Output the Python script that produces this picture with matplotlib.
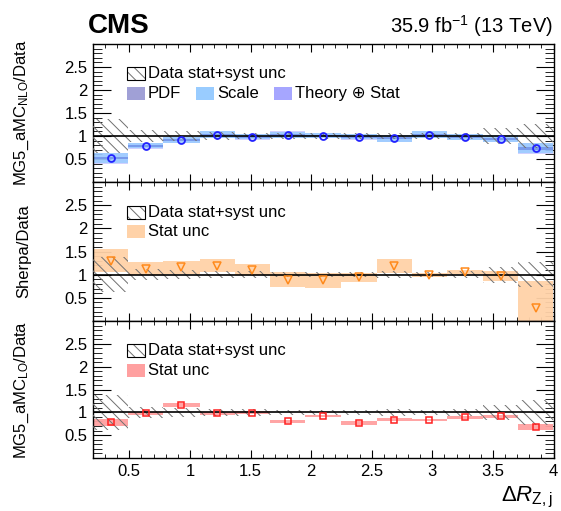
import numpy as np
import matplotlib
matplotlib.use('Agg')
import matplotlib.pyplot as plt
from matplotlib.patches import Rectangle
from matplotlib.ticker import MultipleLocator, FuncFormatter

plt.rcParams['font.family'] = ['Liberation Sans', 'DejaVu Sans']
plt.rcParams['mathtext.fontset'] = 'custom'
plt.rcParams['mathtext.rm'] = 'Liberation Sans'
plt.rcParams['mathtext.it'] = 'Liberation Sans:italic'
plt.rcParams['hatch.linewidth'] = 0.7

# Delta R(Z,j) binning
bin_edges = [0.2, 0.49, 0.78, 1.08, 1.37, 1.66, 1.95, 2.25, 2.54, 2.83, 3.12, 3.42, 3.71, 4.0]

# data stat+syst uncertainty (relative, same in all panels)
data_unc = [0.38, 0.12, 0.10, 0.08, 0.07, 0.06, 0.06, 0.06, 0.07, 0.06, 0.07, 0.17, 0.27]

# MG5_aMC NLO / data
nlo_ratio = [0.52, 0.79, 0.91, 1.03, 0.98, 1.03, 1.01, 0.98, 0.95, 1.03, 0.98, 0.94, 0.73]
nlo_total = [0.12, 0.065, 0.07, 0.08, 0.06, 0.07, 0.06, 0.06, 0.08, 0.08, 0.07, 0.08, 0.12]
nlo_scale = [0.11, 0.06, 0.065, 0.075, 0.055, 0.065, 0.055, 0.055, 0.075, 0.075, 0.065, 0.075, 0.11]
nlo_pdf = [0.03, 0.02, 0.02, 0.02, 0.02, 0.02, 0.02, 0.02, 0.02, 0.02, 0.02, 0.02, 0.03]

# Sherpa / data
sherpa_ratio = [1.30, 1.13, 1.16, 1.19, 1.11, 0.89, 0.88, 0.94, 1.18, 0.99, 1.06, 0.97, 0.27]
sherpa_stat = [0.25, 0.14, 0.14, 0.14, 0.11, 0.16, 0.16, 0.10, 0.15, 0.05, 0.05, 0.10, 0.60]

# MG5_aMC LO / data
lo_ratio = [0.78, 0.98, 1.16, 0.98, 0.99, 0.80, 0.92, 0.77, 0.84, 0.83, 0.89, 0.91, 0.68]
lo_stat = [0.07, 0.03, 0.04, 0.03, 0.03, 0.03, 0.03, 0.04, 0.04, 0.03, 0.03, 0.04, 0.06]

edges = np.array(bin_edges)
lo_edge = edges[:-1]
widths = np.diff(edges)
centers = lo_edge + widths / 2

W_PX, H_PX = 561, 511
fig = plt.figure(figsize=(W_PX / 100, H_PX / 100), dpi=100)

left = 93 / W_PX
width = 460.5 / W_PX
panels_px = [(44, 182), (182, 321), (321, 458)]
axes = []
for top, bot in panels_px:
    axes.append(fig.add_axes([left, 1 - bot / H_PX, width, (bot - top) / H_PX]))


def band(ax, center, err, **kw):
    c = np.array(center)
    e = np.array(err)
    ax.bar(lo_edge, 2 * e, bottom=c - e, width=widths, align='edge', linewidth=0, **kw)


def style_axis(ax, ylabel, show_x):
    ax.set_xlim(0.2, 4.0)
    ax.set_ylim(0, 3)
    ax.xaxis.set_major_locator(MultipleLocator(0.5))
    ax.xaxis.set_minor_locator(MultipleLocator(0.1))
    ax.set_yticks([0.5, 1, 1.5, 2, 2.5])
    ax.yaxis.set_minor_locator(MultipleLocator(0.1))
    fmt = FuncFormatter(lambda v, p: '%g' % v)
    ax.xaxis.set_major_formatter(fmt)
    ax.yaxis.set_major_formatter(fmt)
    ax.tick_params(which='both', direction='in', top=True, right=True, labelsize=12)
    ax.tick_params(axis='x', which='major', length=6, pad=4)
    ax.tick_params(axis='x', which='minor', length=3)
    ax.tick_params(axis='y', which='major', length=13, pad=4)
    ax.tick_params(axis='y', which='minor', length=6.5)
    ax.tick_params(axis='x', labelbottom=show_x)
    for s in ax.spines.values():
        s.set_linewidth(1.0)
    ax.set_ylabel(ylabel, fontsize=12)
    ax.yaxis.set_label_coords(-0.135, 0.5)
    ax.axhline(1.0, color='black', lw=1.2, zorder=4)
    # data uncertainty hatch
    band(ax, np.ones(len(data_unc)), data_unc, facecolor='none', edgecolor='#707070',
         hatch='\\\\\\', zorder=3)


BOX_W, BOX_H = 0.039, 0.094
ROW1, ROW2 = 0.783, 0.641


def legend_box(ax, x, y, label, hatch=False, color=None):
    if hatch:
        ax.add_patch(Rectangle((x, y - BOX_H / 2), BOX_W, BOX_H, transform=ax.transAxes,
                               facecolor='white', edgecolor='#707070', hatch='\\\\\\',
                               linewidth=0, zorder=6))
        ax.add_patch(Rectangle((x, y - BOX_H / 2), BOX_W, BOX_H, transform=ax.transAxes,
                               facecolor='none', edgecolor='black', linewidth=0.8, zorder=7))
    else:
        ax.add_patch(Rectangle((x, y - BOX_H / 2), BOX_W, BOX_H, transform=ax.transAxes,
                               facecolor=color, linewidth=0, zorder=6))
    ax.text(x + BOX_W + 0.006, y, label, transform=ax.transAxes, fontsize=12,
            ha='left', va='center', zorder=7)


# top panel: MG5_aMC NLO
ax = axes[0]
style_axis(ax, 'MG5_aMC$_{\\mathrm{NLO}}$/Data', False)
band(ax, nlo_ratio, nlo_total, color='#9999ff', alpha=0.45, zorder=2)
band(ax, nlo_ratio, nlo_scale, color='#99ccff', alpha=0.85, zorder=2)
band(ax, nlo_ratio, nlo_pdf, color='#6f8fe6', alpha=0.8, zorder=2)
ax.plot(centers, nlo_ratio, 'o', mfc='none', mec='#2222ff', ms=5, mew=1.3, zorder=5)
legend_box(ax, 0.074, ROW1, 'Data stat+syst unc', hatch=True)
legend_box(ax, 0.074, ROW2, 'PDF', color='#a0a0d6')
legend_box(ax, 0.224, ROW2, 'Scale', color='#99ccff')
legend_box(ax, 0.393, ROW2, 'Theory \u2295 Stat', color='#a6a6ff')

# middle panel: Sherpa
ax = axes[1]
style_axis(ax, 'Sherpa/Data', False)
band(ax, sherpa_ratio, sherpa_stat, color='#ffd2a8', alpha=0.95, zorder=2)
ax.plot(centers, sherpa_ratio, 'v', mfc='none', mec='#ff8a1c', ms=5.5, mew=1.1, zorder=5)
legend_box(ax, 0.074, ROW1, 'Data stat+syst unc', hatch=True)
legend_box(ax, 0.074, ROW2, 'Stat unc', color='#ffd2a8')

# bottom panel: MG5_aMC LO
ax = axes[2]
style_axis(ax, 'MG5_aMC$_{\\mathrm{LO}}$/Data', True)
band(ax, lo_ratio, lo_stat, color='#ffa0a0', alpha=0.95, zorder=2)
ax.plot(centers, lo_ratio, 's', mfc='none', mec='#ff2020', ms=5, mew=1.1, zorder=5)
legend_box(ax, 0.074, ROW1, 'Data stat+syst unc', hatch=True)
legend_box(ax, 0.074, ROW2, 'Stat unc', color='#ffa0a0')

# header and axis title
fig.text(88 / W_PX, 1 - 33 / H_PX, 'CMS', fontsize=20, fontweight='bold', ha='left', va='baseline')
fig.text(553 / W_PX, 1 - 33 / H_PX, '35.9 fb$^{\\mathrm{-1}}$ (13 TeV)', fontsize=14.5,
         ha='right', va='baseline')
fig.text(553 / W_PX, 1 - 501 / H_PX, '$\\Delta\\mathit{R}_{\\mathrm{Z,j}}$', fontsize=16,
         ha='right', va='baseline')

fig.savefig('out.png', dpi=100, facecolor='white')
